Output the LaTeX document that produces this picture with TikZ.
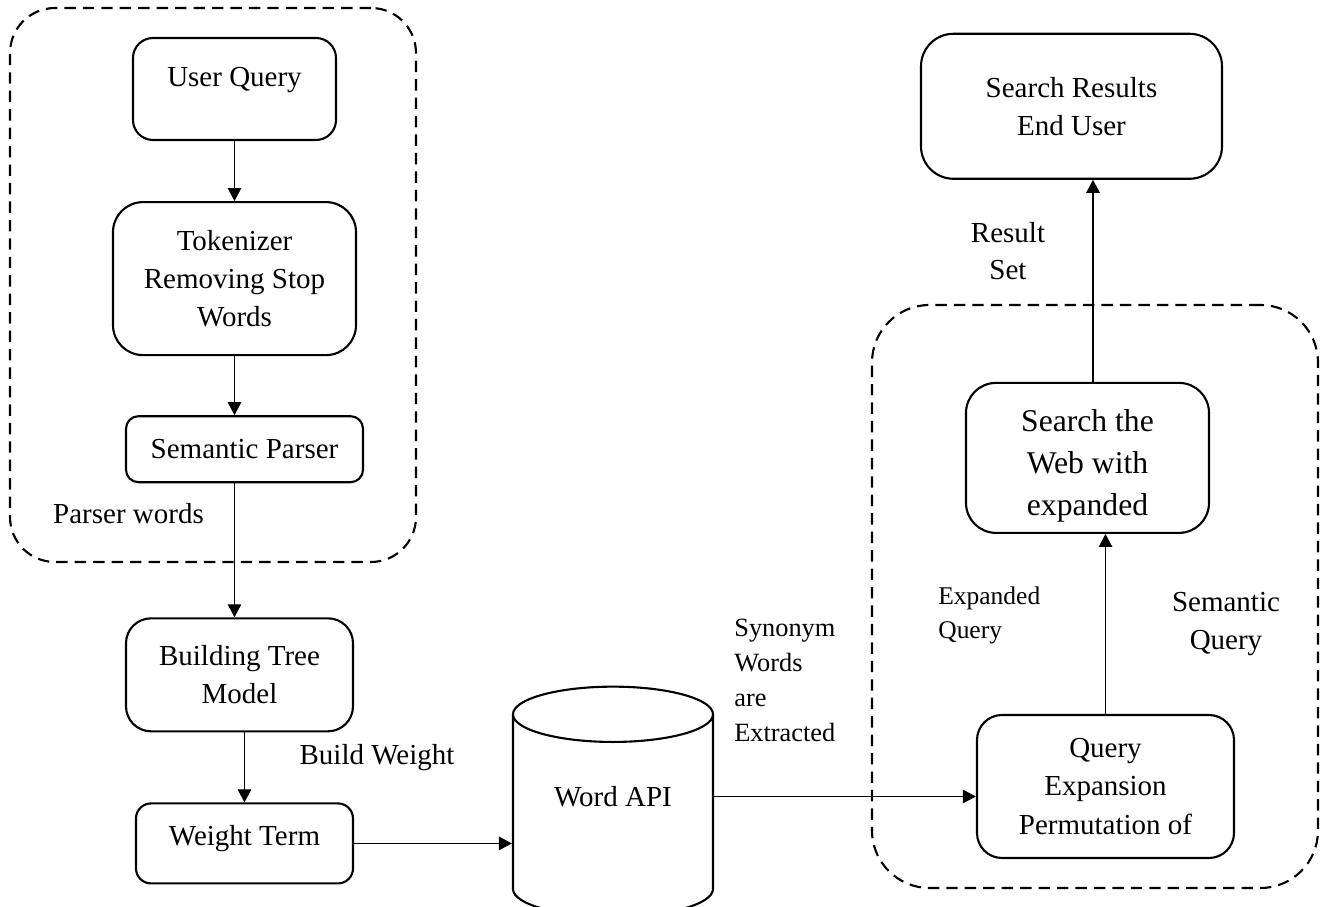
\documentclass[tikz,border=0pt]{standalone}
\usepackage{fontspec}
\setmainfont{Liberation Serif}
\usepackage{tikz}
\usetikzlibrary{shapes.geometric, arrows.meta, positioning}

\begin{document}
\begin{tikzpicture}[
  box/.style={rectangle, rounded corners=0.5cm, draw=black, line width=1.2pt,
              align=center, inner sep=0pt, font=\fontsize{16.5}{21.8}\selectfont},
  arrow/.style={-{Triangle[length=0.26cm, width=0.27cm]}, line width=0.6pt},
  group/.style={rectangle, draw=black, line width=1.2pt, dash pattern=on 6.5pt off 4pt,
                inner sep=0pt},
  lbl/.style={inner sep=0pt, align=center, font=\fontsize{16.5}{21.5}\selectfont}
]
\useasboundingbox (0,0) rectangle (26.4,-18.14);

% dashed groups
\node[group, rounded corners=0.9cm, minimum width=8.12cm, minimum height=11.08cm] (lgrp) at (4.26,-5.7) {};
\node[group, rounded corners=1.15cm, minimum width=8.92cm, minimum height=11.66cm] (rgrp) at (21.9,-11.93) {};

% left column
\node[box, rounded corners=0.4cm, minimum width=4.06cm, minimum height=2.04cm] (uq) at (4.69,-1.78)
  {User Query\rule[-13.5pt]{0pt}{13.5pt}};
\node[box, rounded corners=0.6cm, minimum width=4.86cm, minimum height=3.06cm, below=1.2cm of uq] (tok)
  {Tokenizer\\Removing Stop\\Words};
\node[box, rounded corners=0.25cm, minimum width=4.74cm, minimum height=1.32cm, below=1.18cm of tok, xshift=0.2cm] (sp)
  {Semantic Parser};
\node[box, minimum width=4.54cm, minimum height=2.26cm, below=2.68cm of sp, xshift=-0.1cm] (btm)
  {Building Tree\\Model};
\node[box, rounded corners=0.3cm, minimum width=4.34cm, minimum height=1.6cm, below=1.4cm of btm, xshift=0.1cm] (wt)
  {Weight Term\rule[-9.6pt]{0pt}{9.6pt}};

% store (runs off the bottom edge)
\node[cylinder, shape border rotate=90, aspect=0.47, draw=black, line width=1.2pt,
      minimum width=4cm, minimum height=4.6cm, inner sep=0pt,
      font=\fontsize{16.5}{21.8}\selectfont] (api) at (12.26,-16.32)
  {Word API\rule[-22pt]{0pt}{22pt}};

% right column
\node[box, minimum width=5.14cm, minimum height=2.86cm] (qe) at (22.11,-15.73)
  {Query\\Expansion\\Permutation of};
\node[box, rounded corners=0.6cm, minimum width=4.86cm, minimum height=3cm, above=3.6cm of qe, xshift=-0.36cm,
      font=\fontsize{18}{23.8}\selectfont] (sw)
  {\rule{0pt}{21.5pt}Search the\\Web with\\expanded};
\node[box, rounded corners=0.65cm, minimum width=6.02cm, minimum height=2.9cm, above=4.04cm of sw, xshift=-0.32cm] (sr)
  {Search Results\\End User};

% labels
\node[lbl] (pw) at (2.57,-10.28) {Parser words};
\node[lbl] (bw) at (7.54,-15.16) {Build Weight};
\node[lbl, align=left, anchor=west, font=\fontsize{15}{19.8}\selectfont] (syn) at (14.68,-13.61)
  {Synonym\\Words\\are\\Extracted};
\node[lbl, align=left, anchor=west, font=\fontsize{14.5}{19.3}\selectfont] (eq) at (18.76,-12.3)
  {Expanded\\Query};
\node[lbl] (sq) at (24.52,-12.48) {Semantic\\Query};
\node[lbl, font=\fontsize{16.5}{21}\selectfont] (rs) at (20.16,-5.03) {Result\\Set};

% connectors
\draw[arrow] (uq.south) -- (uq.south |- tok.north);
\draw[arrow] (tok.south) -- (tok.south |- sp.north);
\draw[arrow] (tok.south |- sp.south) -- (tok.south |- btm.north);
\draw[arrow] (wt.north |- btm.south) -- (wt.north);
\draw[arrow] (wt.east) -- (api.west |- wt.east);
\draw[arrow] ([yshift=0.39cm]api.east) -- ([yshift=0.39cm]api.east -| qe.west);
\draw[arrow] (qe.north) -- (qe.north |- sw.south);
\draw[arrow] ([xshift=0.11cm]sw.north) -- ([xshift=0.11cm]sw.north |- sr.south);
\end{tikzpicture}
\end{document}
